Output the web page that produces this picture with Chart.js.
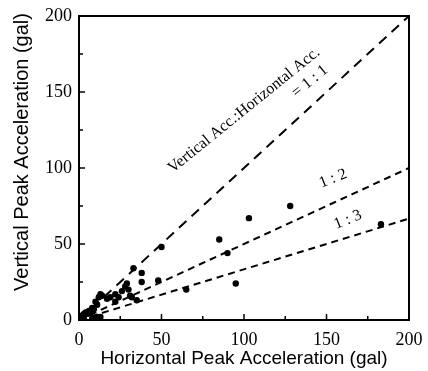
<!DOCTYPE html>
<html>
<head>
<meta charset="utf-8">
<script src="https://cdn.jsdelivr.net/npm/chart.js@4/dist/chart.umd.min.js"></script>
<style>
  html, body { margin: 0; padding: 0; background: #fff; }
  #wrap { width: 428px; height: 371px; }
</style>
</head>
<body>
<div id="wrap"><canvas id="chart" width="428" height="371"></canvas></div>
<script>
// Peak acceleration records (gal)
const horizontal = [1, 2, 3, 4, 5, 6, 7, 8, 9, 10, 11, 12, 13, 14, 3, 8, 11, 13,
  17, 19, 22, 22, 24, 26, 28, 29, 30, 31, 32, 33, 35, 38, 38, 48, 50, 65, 85, 90, 95, 103, 128, 183];
const vertical = [1, 3, 4, 5, 4, 6, 5, 8, 7, 12, 10, 15, 17, 16, 1, 1, 2, 2,
  14, 15, 17, 12, 15, 19, 22, 24, 20, 16, 15, 34, 13, 31, 25, 26, 48, 20, 53, 44, 24, 67, 75, 63];

// ratio lines V:H = 1:1, 1:2, 1:3
const ratioEnds = [200, 100, 66.7];
const ratioDash = [[10, 7], [7, 5], [7, 5]];

const axisTicks = [0, 50, 100, 150, 200];
const minorTicks = [25, 75, 125, 175];

const SERIF = "'Liberation Serif', 'DejaVu Serif', serif";
const SANS = "'Liberation Sans', Arial, sans-serif";

const points = horizontal.map((h, i) => ({ x: h, y: vertical[i] }));

const lineSets = ratioEnds.map((v, i) => ({
  type: 'line',
  data: [{ x: 0, y: 0 }, { x: 200, y: v }],
  borderColor: '#000',
  borderWidth: 2,
  borderDash: ratioDash[i],
  pointRadius: 0,
  fill: false,
}));

// frame, inward ticks, axis titles and line labels
const decor = {
  id: 'decor',
  afterDraw(chart) {
    const { ctx, chartArea: a, scales: { x, y } } = chart;
    ctx.save();
    ctx.strokeStyle = '#000';
    ctx.lineWidth = 2;
    ctx.strokeRect(a.left, a.top, a.right - a.left, a.bottom - a.top);

    ctx.lineWidth = 1.5;
    ctx.beginPath();
    axisTicks.concat(minorTicks).forEach(v => {
      const len = axisTicks.includes(v) ? 6 : 4;
      const px = x.getPixelForValue(v);
      ctx.moveTo(px, a.bottom); ctx.lineTo(px, a.bottom - len);
      const py = y.getPixelForValue(v);
      ctx.moveTo(a.left, py); ctx.lineTo(a.left + len, py);
    });
    ctx.stroke();

    ctx.fillStyle = '#000';
    ctx.textAlign = 'center';
    ctx.textBaseline = 'middle';
    ctx.font = '19px ' + SANS;
    ctx.fillText('Horizontal Peak Acceleration (gal)', 244, 359);
    ctx.save();
    ctx.translate(22, 152);
    ctx.rotate(-Math.PI / 2);
    ctx.font = '20px ' + SANS;
    ctx.fillText('Vertical Peak Acceleration (gal)', 0, 0);
    ctx.restore();

    const label = (text, vx, vy, deg) => {
      ctx.save();
      ctx.translate(x.getPixelForValue(vx), y.getPixelForValue(vy));
      ctx.rotate(-deg * Math.PI / 180);
      ctx.fillText(text, 0, 0);
      ctx.restore();
    };
    ctx.font = '16px ' + SERIF;
    label('Vertical Acc.:Horizontal Acc.', 100, 138, 39);
    label('= 1 : 1', 140, 157, 39);
    label('1 : 2', 154, 93, 22);
    label('1 : 3', 163, 66, 22);
    ctx.restore();
  }
};

new Chart(document.getElementById('chart'), {
  type: 'scatter',
  data: {
    datasets: [
      {
        data: points,
        backgroundColor: '#000',
        borderWidth: 0,
        pointRadius: 3.2,
      },
      ...lineSets,
    ]
  },
  options: {
    responsive: false,
    animation: false,
    layout: { padding: { left: 0, right: 19, top: 16, bottom: 0 } },
    plugins: { legend: { display: false }, tooltip: { enabled: false } },
    scales: {
      x: {
        type: 'linear', min: 0, max: 200,
        afterBuildTicks: s => { s.ticks = axisTicks.map(v => ({ value: v })); },
        afterFit: s => { s.height = 51; s.paddingLeft = 0; s.paddingRight = 0; },
        ticks: { color: '#000', padding: 9, font: { family: SERIF, size: 18 } },
        grid: { display: false, drawTicks: false, tickLength: 0 },
        border: { display: false },
      },
      y: {
        type: 'linear', min: 0, max: 200,
        afterBuildTicks: s => { s.ticks = axisTicks.map(v => ({ value: v })); },
        afterFit: s => { s.width = 79; s.paddingTop = 0; s.paddingBottom = 0; },
        ticks: { color: '#000', padding: 7, font: { family: SERIF, size: 18 } },
        grid: { display: false, drawTicks: false, tickLength: 0 },
        border: { display: false },
      }
    }
  },
  plugins: [decor]
});
</script>
</body>
</html>
